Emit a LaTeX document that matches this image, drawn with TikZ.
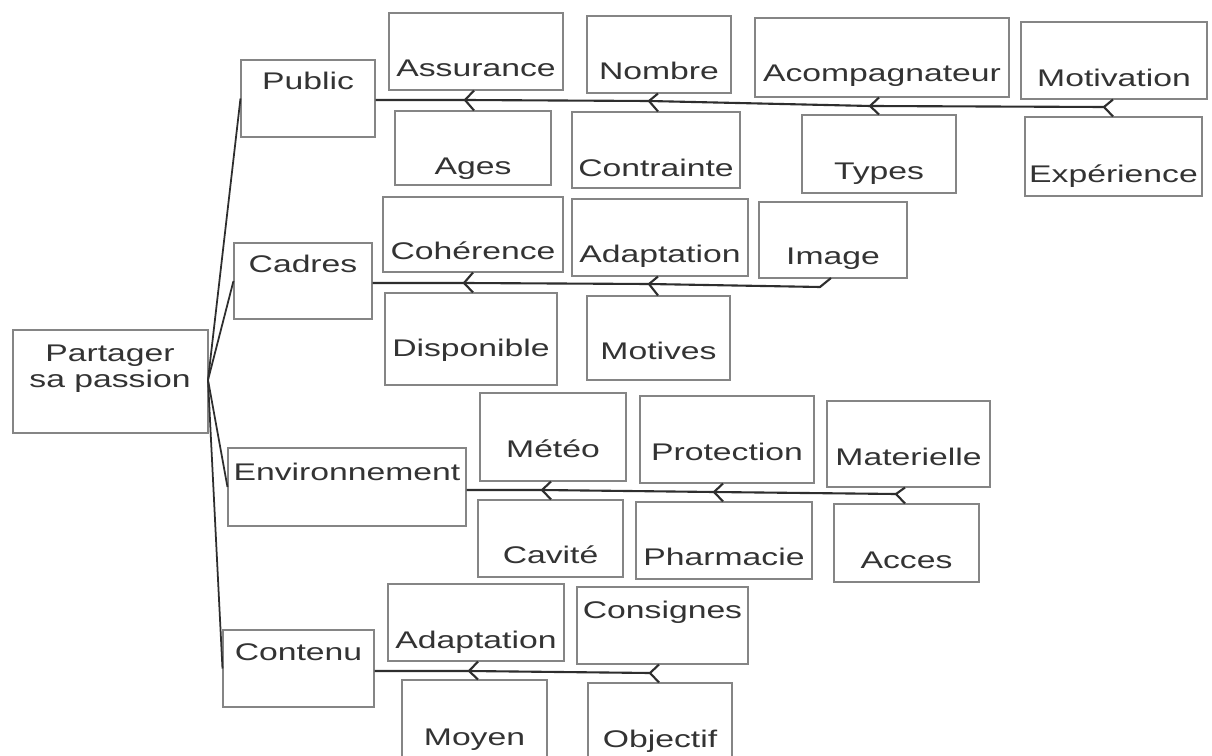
\documentclass[tikz,border=0pt]{standalone}
\usepackage{fontspec}
\newfontfamily\diafont{Liberation Sans}[FakeStretch=1.4]
\usetikzlibrary{fit,calc}
\definecolor{boxgray}{HTML}{858585}
\definecolor{linegray}{HTML}{2E2E2E}
\definecolor{txtgray}{HTML}{333333}
\newcommand\mybox[7]{%
  \node[boxst, fit={(#2,#3) (#4,#5)}] (#1) {};
  \node[txtst, anchor=base] (#1-t) at ({(#2+#4)/2},#6) {#7};
}
\newcommand\chev[3]{% tip name, x, y
  \coordinate (#1) at (#2,#3);
  \coordinate (#1-a) at ($(#1)+(9,0)$);
}
\begin{document}
\begin{tikzpicture}[x=0.02cm,y=-0.02cm,
  boxst/.style={draw=boxgray, line width=0.6pt, inner sep=0pt, rectangle},
  txtst/.style={text=txtgray, inner sep=0pt, font=\diafont\fontsize{13.7}{14.8}\selectfont},
  spine/.style={draw=linegray, line width=1.2pt, line join=round},
  link/.style={draw=linegray, line width=1pt}]
\useasboundingbox (0,0) rectangle (1212,756);
\clip (0,0) rectangle (1212,756);
\fill[white] (0,0) rectangle (1212,756);

% root
\node[boxst, fit={(13,330) (208,433)}] (root) {};
\node[txtst, align=center, anchor=north] (root-t) at (110,345) {Partager\\sa passion};

% level boxes
\mybox{public}{241}{60}{375}{137}{90}{Public}
\mybox{cadres}{234}{243}{372}{319}{273}{Cadres}
\mybox{env}{228}{448}{466}{526}{480}{Environnement}
\mybox{contenu}{223}{630}{374}{707}{660}{Contenu}

% public children
\mybox{assurance}{389}{13}{563}{90}{77}{Assurance}
\mybox{ages}{395}{111}{551}{185}{175}{Ages}
\mybox{nombre}{587}{16}{731}{93}{80}{Nombre}
\mybox{contrainte}{572}{112}{740}{188}{177}{Contrainte}
\mybox{acomp}{755}{18}{1009}{97}{82}{Acompagnateur}
\mybox{types}{802}{115}{956}{193}{180}{Types}
\mybox{motivation}{1021}{22}{1207}{99}{87}{Motivation}
\mybox{experience}{1025}{117}{1202}{196}{183}{Expérience}

% cadres children
\mybox{coherence}{383}{197}{563}{272}{260}{Cohérence}
\mybox{adaptA}{572}{199}{748}{276}{263}{Adaptation}
\mybox{image}{759}{202}{907}{278}{265}{Image}
\mybox{disponible}{385}{293}{557}{385}{357}{Disponible}
\mybox{motives}{587}{296}{730}{380}{359}{Motives}

% environnement children
\mybox{meteo}{480}{393}{626}{481}{457}{Météo}
\mybox{protection}{640}{396}{814}{483}{460}{Protection}
\mybox{materielle}{827}{401}{990}{487}{465}{Materielle}
\mybox{cavite}{478}{500}{623}{577}{563}{Cavité}
\mybox{pharmacie}{636}{502}{812}{579}{565}{Pharmacie}
\mybox{acces}{834}{504}{979}{582}{568}{Acces}

% contenu children
\mybox{adaptB}{388}{584}{564}{661}{648}{Adaptation}
\mybox{consignes}{577}{587}{748}{664}{618}{Consignes}
\mybox{moyen}{402}{680}{547}{775}{745}{Moyen}
\mybox{objectif}{588}{683}{732}{775}{747}{Objectif}

% links from root
\coordinate (hub) at (208,380);
\draw[link] (hub) -- (public.west);
\draw[link] (hub) -- (cadres.west);
\draw[link] (hub) -- (env.west);
\draw[link] (hub) -- (contenu.west);

% chevron tips
\chev{pA}{465}{100}
\chev{pB}{649}{101}
\chev{pC}{870}{106}
\chev{pD}{1104}{107}
\chev{cA}{464}{283}
\chev{cB}{649}{284}
\coordinate (cEnd) at (820,287);
\coordinate (cImg) at (831,278);
\chev{eA}{542}{490}
\chev{eB}{714}{492}
\chev{eC}{896}{494}
\chev{kA}{469}{671}
\chev{kB}{650}{673}

% spines
\draw[spine] (public.east |- pA) -- (pA) -- (pB) -- (pC) -- (pD);
\draw[spine] (cadres.east |- cA) -- (cA) -- (cB) -- (cEnd) -- (cImg);
\draw[spine] (env.east |- eA) -- (eA) -- (eB) -- (eC);
\draw[spine] (contenu.east |- kA) -- (kA) -- (kB);

% chevrons
\draw[spine] (pA-a |- assurance.south) -- (pA) -- (pA-a |- ages.north);
\draw[spine] (pB-a |- nombre.south) -- (pB) -- (pB-a |- contrainte.north);
\draw[spine] (pC-a |- acomp.south) -- (pC) -- (pC-a |- types.north);
\draw[spine] (pD-a |- motivation.south) -- (pD) -- (pD-a |- experience.north);
\draw[spine] (cA-a |- coherence.south) -- (cA) -- (cA-a |- disponible.north);
\draw[spine] (cB-a |- adaptA.south) -- (cB) -- (cB-a |- motives.north);
\draw[spine] (eA-a |- meteo.south) -- (eA) -- (eA-a |- cavite.north);
\draw[spine] (eB-a |- protection.south) -- (eB) -- (eB-a |- pharmacie.north);
\draw[spine] (eC-a |- materielle.south) -- (eC) -- (eC-a |- acces.north);
\draw[spine] (kA-a |- adaptB.south) -- (kA) -- (kA-a |- moyen.north);
\draw[spine] (kB-a |- consignes.south) -- (kB) -- (kB-a |- objectif.north);
\end{tikzpicture}
\end{document}
